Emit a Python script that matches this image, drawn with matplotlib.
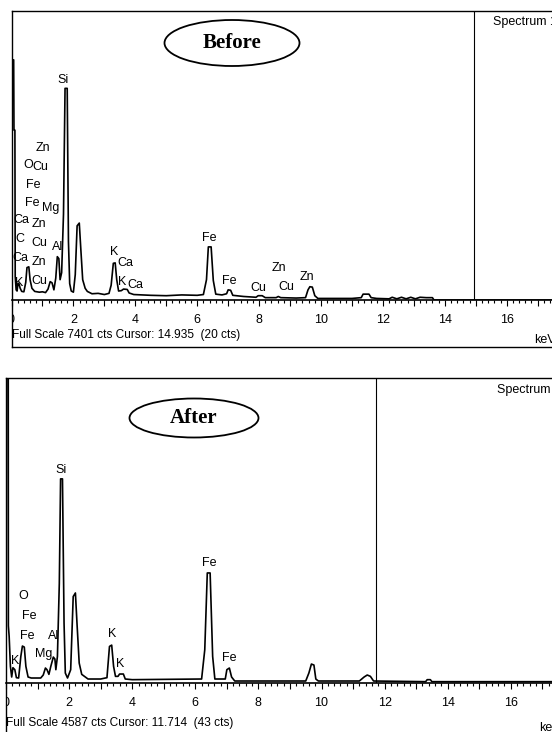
import numpy as np
import matplotlib
matplotlib.use("Agg")
import matplotlib.pyplot as plt
from matplotlib import font_manager
from matplotlib.patches import Ellipse

# ---- EDS spectra (keV, counts) ----
before_kev = [0.00, 0.01, 0.07, 0.08, 0.11, 0.12, 0.15, 0.18, 0.21, 0.24,
              0.28, 0.33, 0.40, 0.46, 0.50, 0.56, 0.60, 0.66, 0.75, 0.90,
              1.00, 1.10, 1.18, 1.25, 1.31, 1.37, 1.43, 1.48, 1.53, 1.57,
              1.62, 1.68, 1.73, 1.80, 1.84, 1.88, 1.93, 2.00, 2.06, 2.12,
              2.19, 2.24, 2.30, 2.38, 2.45, 2.60, 2.80, 3.00, 3.15, 3.22,
              3.29, 3.35, 3.40, 3.46, 3.55, 3.62, 3.74, 3.80, 3.95, 4.50,
              5.00, 5.50, 6.00, 6.20, 6.30, 6.36, 6.45, 6.52, 6.60, 6.80,
              6.95, 7.00, 7.08, 7.15, 7.50, 7.90, 7.97, 8.10, 8.20, 8.55,
              8.62, 8.70, 9.20, 9.50, 9.58, 9.64, 9.72, 9.80, 9.90, 10.50,
              11.00, 11.30, 11.36, 11.55, 11.62, 11.80, 12.20, 12.30, 12.45, 12.60,
              12.75, 12.90, 13.05, 13.20, 13.40, 13.60, 13.65, 20.00]
before_cts = [0, 6150, 6150, 4350, 4350, 600, 260, 230, 430, 420,
              300, 220, 210, 450, 830, 850, 520, 300, 220, 200,
              210, 190, 280, 470, 440, 260, 560, 1110, 1060, 520,
              700, 2200, 5420, 5420, 1500, 420, 230, 200, 650, 1900,
              1970, 1300, 520, 300, 220, 160, 170, 140, 170, 380,
              940, 950, 520, 230, 240, 280, 270, 180, 140, 120,
              110, 130, 120, 140, 520, 1360, 1360, 500, 150, 130,
              160, 260, 250, 120, 90, 70, 110, 110, 60, 60,
              90, 60, 50, 60, 260, 340, 330, 110, 40, 40,
              40, 60, 150, 150, 60, 40, 30, 70, 30, 70,
              30, 70, 30, 70, 60, 60, 0, 0]

after_kev = [0.00, 0.02, 0.07, 0.075, 0.10, 0.14, 0.18, 0.22, 0.28, 0.33,
             0.40, 0.47, 0.52, 0.58, 0.63, 0.70, 0.80, 1.10, 1.18, 1.25,
             1.30, 1.36, 1.42, 1.50, 1.55, 1.58, 1.63, 1.69, 1.73, 1.79,
             1.84, 1.88, 1.95, 2.05, 2.13, 2.20, 2.25, 2.32, 2.40, 2.60,
             3.00, 3.20, 3.28, 3.35, 3.41, 3.47, 3.55, 3.60, 3.72, 3.78,
             4.00, 6.20, 6.30, 6.38, 6.47, 6.55, 6.62, 6.95, 7.00, 7.08,
             7.15, 7.25, 9.50, 9.60, 9.68, 9.76, 9.82, 9.90, 11.20, 11.35,
             11.45, 11.55, 11.65, 13.30, 13.35, 13.45, 13.50, 20.00]
after_cts = [0, 6000, 6000, 860, 700, 250, 90, 230, 200, 80,
             75, 400, 556, 540, 250, 90, 75, 75, 120, 225,
             200, 130, 250, 390, 360, 200, 400, 1500, 3070, 3070,
             900, 150, 75, 200, 1300, 1354, 900, 300, 130, 60,
             60, 80, 550, 570, 250, 100, 100, 135, 135, 60,
             50, 60, 500, 1655, 1655, 400, 60, 60, 200, 225,
             90, 30, 30, 150, 285, 270, 60, 30, 30, 90,
             120, 100, 30, 20, 50, 50, 20, 20]

# ---- peak labels (element, keV, counts) ----
before_lbl = ["Si", "Zn", "O", "Cu", "Fe", "Fe", "Mg", "Ca", "Zn", "C",
              "Cu", "Al", "Ca", "Zn", "K", "Cu", "K", "Ca", "K", "Ca",
              "Fe", "Fe", "Cu", "Zn", "Cu", "Zn"]
before_lbl_kev = [1.67, 1.02, 0.53, 0.92, 0.69, 0.66, 1.26, 0.31, 0.88, 0.26,
                  0.89, 1.50, 0.28, 0.89, 0.25, 0.90, 3.30, 3.67, 3.59, 3.99,
                  6.40, 7.04, 7.96, 8.64, 8.87, 9.55]
before_lbl_cts = [5630, 3890, 3456, 3405, 2944, 2483, 2355, 2048, 1946, 1562,
                  1459, 1357, 1075, 973, 435, 486, 1229, 947, 461, 384,
                  1587, 486, 307, 819, 333, 589]

after_lbl = ["Si", "Fe", "O", "Fe", "Fe", "Al", "Mg", "K", "K", "K", "Fe"]
after_lbl_kev = [1.74, 6.44, 0.54, 0.73, 0.67, 1.52, 1.19, 0.29, 3.35, 3.61, 7.08]
after_lbl_cts = [3204, 1805, 1301, 1008, 707, 707, 436, 331, 737, 286, 376]

W, H = 552, 732

names = {f.name for f in font_manager.fontManager.ttflist}
if "Liberation Sans Narrow" in names:
    sans, fs, fs_info = "Liberation Sans Narrow", 10, 10
else:
    sans, fs, fs_info = "Liberation Sans", 9, 8.6


def px_box(x0, y0, x1, y1):
    return [x0 / W, 1 - y1 / H, (x1 - x0) / W, (y1 - y0) / H]


def panel(fig, frame_px, base_y, kev, cts, full, cursor, lbl, lkev, lcts,
          title, ell, info_xy):
    x0, y0, x1, y1 = frame_px
    frame = fig.add_axes(px_box(x0, y0, x1, y1))
    frame.set_xticks([])
    frame.set_yticks([])
    for s in frame.spines.values():
        s.set_linewidth(1.0)

    ax = fig.add_axes(px_box(x0, y0, x1, base_y))
    ax.patch.set_visible(False)
    for k in ("top", "left", "right"):
        ax.spines[k].set_visible(False)
    ax.spines["bottom"].set_linewidth(1.2)
    ax.plot(kev, cts, color="black", lw=1.2)
    ax.axvline(cursor, color="black", lw=0.8)
    ax.set_xlim(0, 20)
    ax.set_ylim(0, full)
    ax.set_yticks([])
    ax.set_xticks(np.arange(0, 21, 1))
    ax.set_xticklabels([str(i) if i % 2 == 0 else "" for i in range(21)])
    ax.set_xticks(np.arange(0, 20.01, 0.2), minor=True)
    ax.tick_params(axis="x", which="major", length=4.5, width=0.8, pad=5.5,
                   labelsize=fs)
    ax.tick_params(axis="x", which="minor", length=2.2, width=0.8)
    for t in ax.get_xticklabels():
        t.set_family(sans)
        t.set_clip_box(frame.bbox)
        t.set_clip_on(True)

    for name, k, c in zip(lbl, lkev, lcts):
        ax.text(k, c, name, ha="center", va="center", fontsize=fs,
                family=sans)

    ax.text(15.57, 0.962, "Spectrum 1", transform=ax.get_xaxis_transform(),
            ha="left", va="center", fontsize=fs, family=sans)
    ax.text(16.9, -(y1 - base_y - 7) / (base_y - y0), "keV",
            transform=ax.get_xaxis_transform(), ha="left", va="center",
            fontsize=fs, family=sans)
    fig.text(info_xy[0] / W, 1 - info_xy[1] / H,
             "Full Scale %d cts Cursor: %.3f  (%s)" % (full, cursor, title[1]),
             ha="left", va="center", fontsize=fs_info, family=sans)

    cx, cy, ew, eh = ell
    fig.add_artist(Ellipse((cx / W, 1 - cy / H), ew / W, eh / H,
                           transform=fig.transFigure, fill=False,
                           lw=1.3, color="black"))
    fig.text(cx / W, 1 - cy / H, title[0], ha="center", va="center",
             fontsize=15, fontweight="bold", family="Liberation Serif")


fig = plt.figure(figsize=(W / 100, H / 100), dpi=100)

panel(fig, (11.5, 11, 630.5, 347), 300, before_kev, before_cts, 7401, 14.935,
      before_lbl, before_lbl_kev, before_lbl_cts, ("Before", "20 cts"),
      (232, 43, 135, 46), (12.5, 335))
panel(fig, (6, 378, 637, 735), 683, after_kev, after_cts, 4587, 11.714,
      after_lbl, after_lbl_kev, after_lbl_cts, ("After", "43 cts"),
      (194, 418, 129, 39), (6, 723))

fig.savefig("out.png", dpi=100)
